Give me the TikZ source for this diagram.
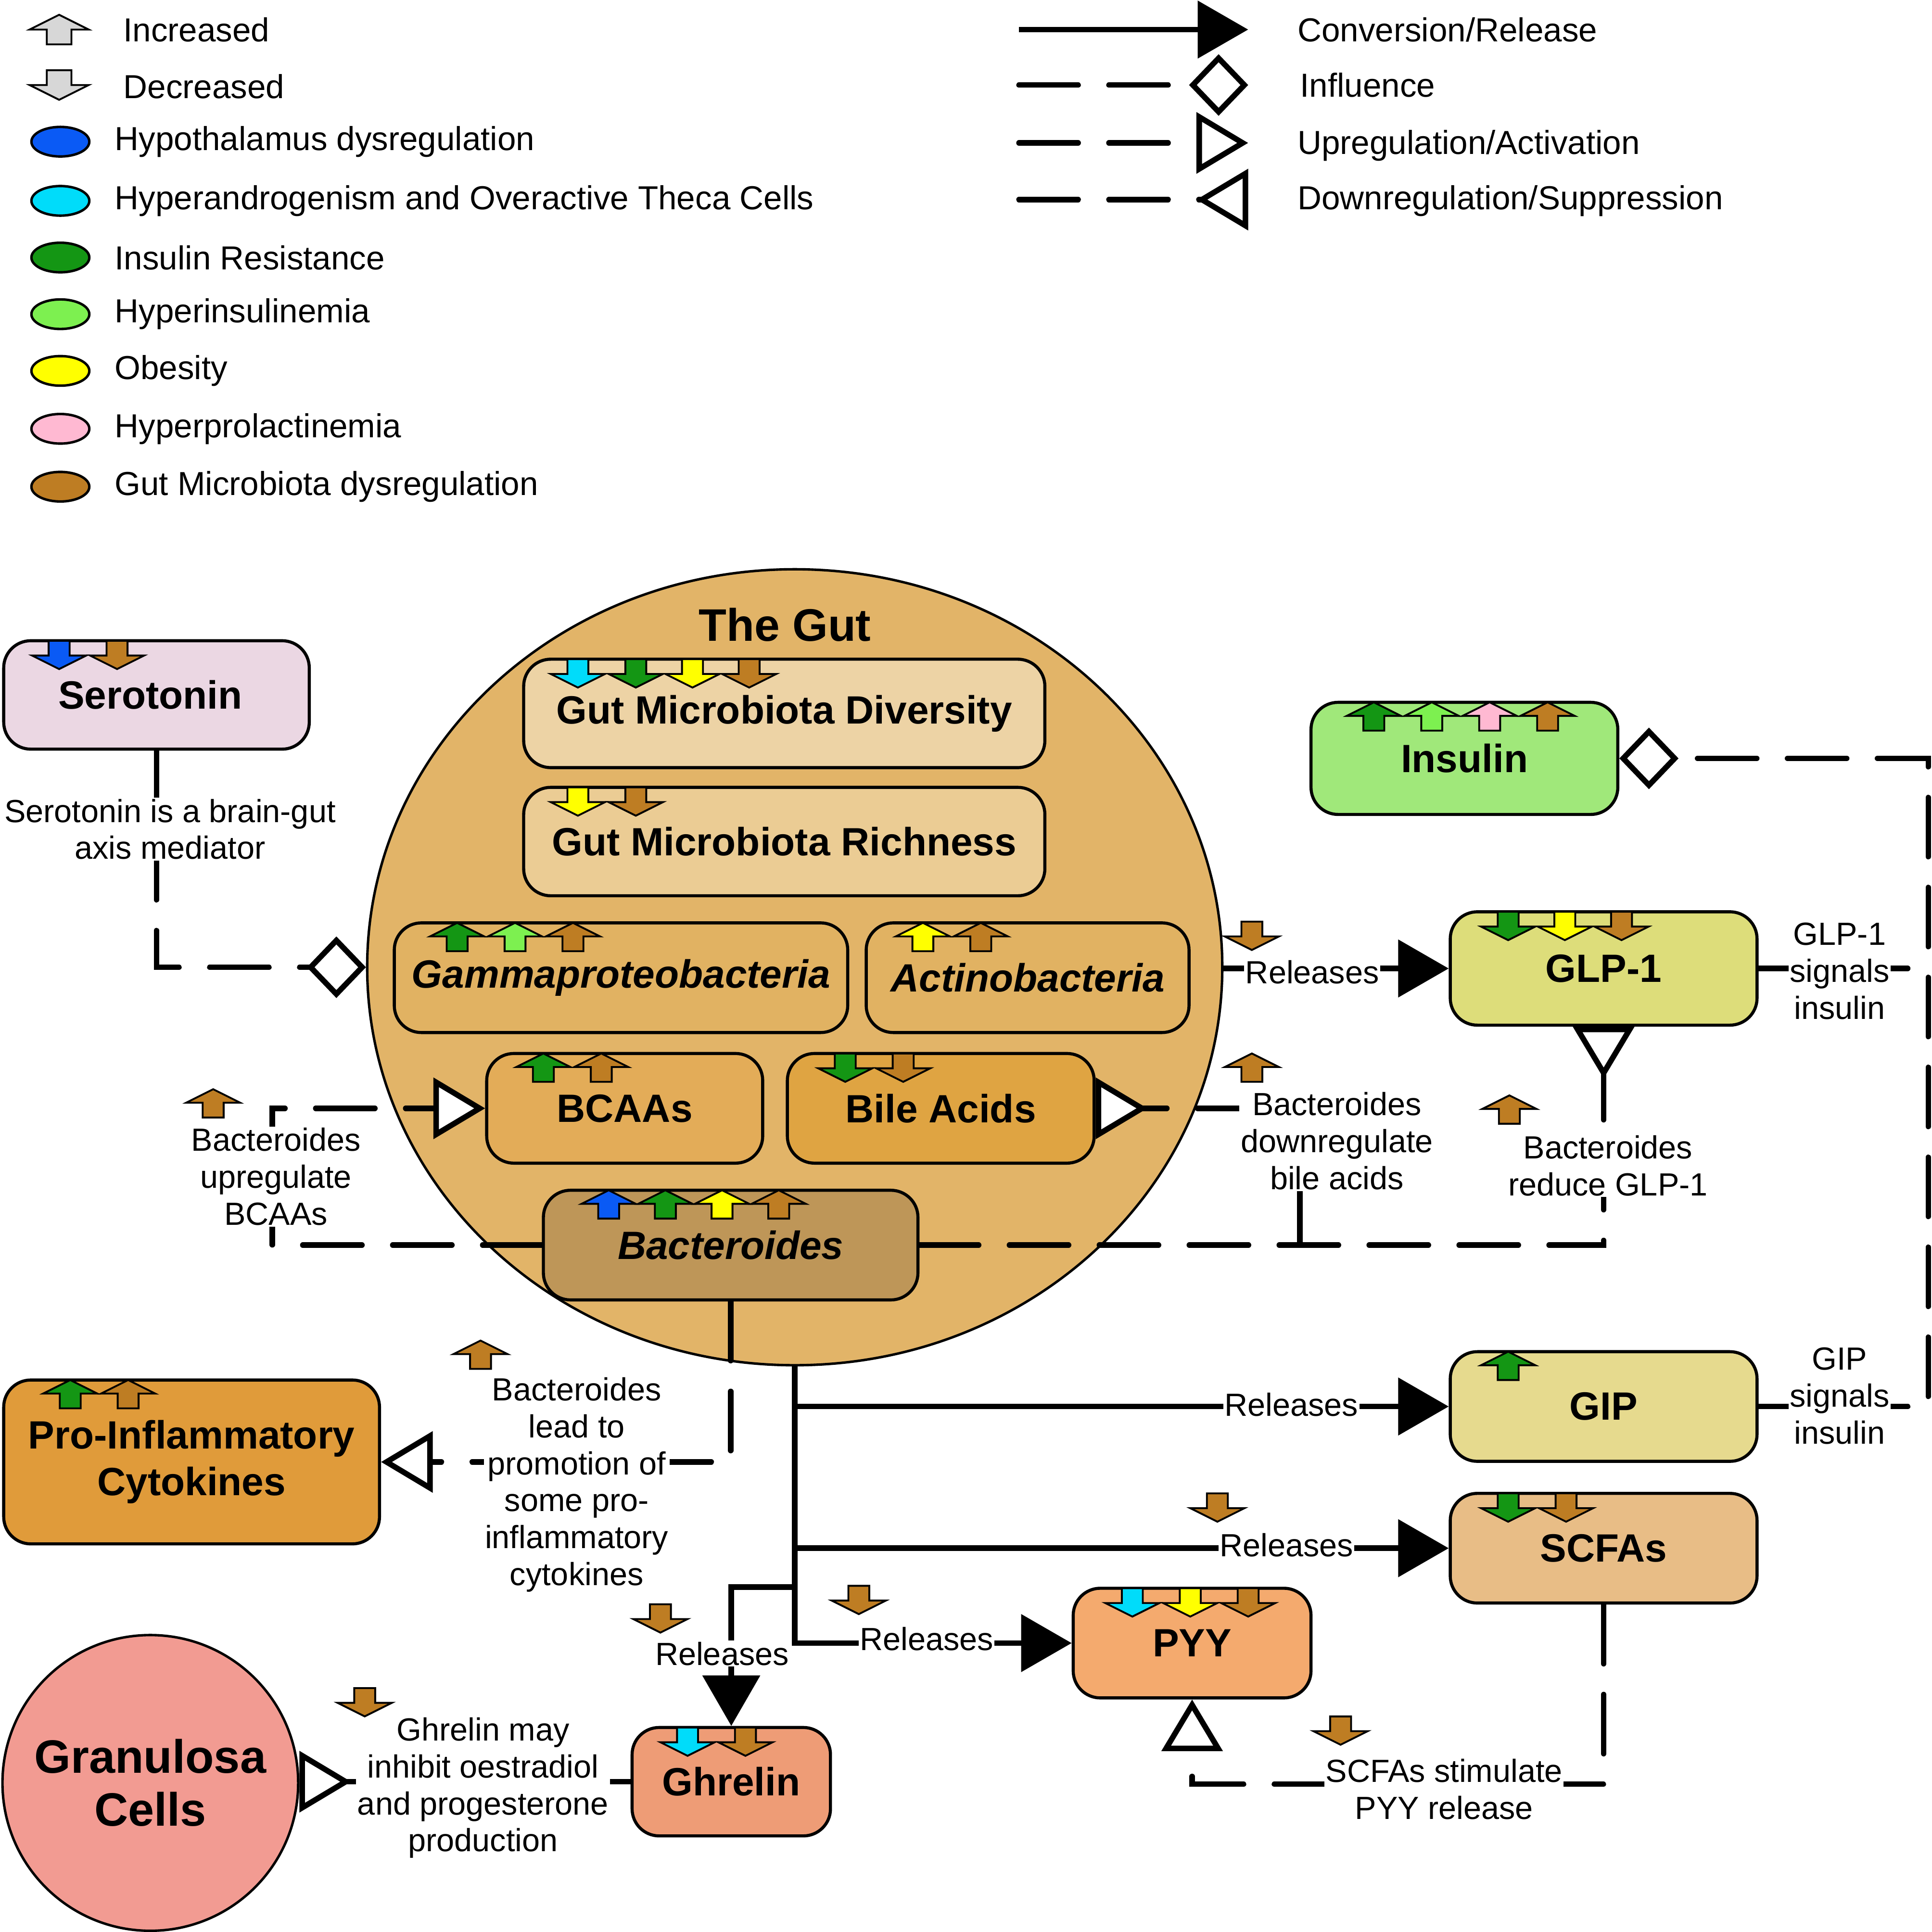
\documentclass[tikz,border=0pt]{standalone}
\usepackage{fontspec}
\setmainfont{Liberation Sans}
\usetikzlibrary{arrows.meta,shapes.geometric,calc}
\definecolor{cSer}{RGB}{235,215,227}
\definecolor{cGut}{RGB}{226,180,104}
\definecolor{cGMD}{RGB}{237,211,165}
\definecolor{cGMR}{RGB}{235,204,148}
\definecolor{cGam}{RGB}{225,178,98}
\definecolor{cBca}{RGB}{227,172,88}
\definecolor{cBil}{RGB}{223,164,66}
\definecolor{cBac}{RGB}{190,150,88}
\definecolor{cIns}{RGB}{160,232,122}
\definecolor{cGlp}{RGB}{221,221,122}
\definecolor{cGip}{RGB}{230,218,142}
\definecolor{cScf}{RGB}{232,189,134}
\definecolor{cPyy}{RGB}{244,170,110}
\definecolor{cGhr}{RGB}{238,156,118}
\definecolor{cPro}{RGB}{224,155,58}
\definecolor{cGra}{RGB}{242,155,146}
\definecolor{aBlue}{RGB}{10,90,245}
\definecolor{aCyan}{RGB}{0,220,250}
\definecolor{aGreen}{RGB}{20,150,20}
\definecolor{aLGreen}{RGB}{125,240,80}
\definecolor{aYellow}{RGB}{255,255,0}
\definecolor{aPink}{RGB}{255,185,210}
\definecolor{aBrown}{RGB}{190,125,35}
\definecolor{aGray}{RGB}{215,215,215}
\newcommand\UpInd[3]{\draw[ind,fill=#3] (#1,#2) -- ++(22,11) -- ++(-13.5,0) -- ++(0,12) -- ++(-17,0) -- ++(0,-12) -- ++(-13.5,0) -- cycle;}
\newcommand\DnInd[3]{\draw[ind,fill=#3] (#1-8.5,#2) -- ++(17,0) -- ++(0,12) -- ++(13.5,0) -- ++(-22,11) -- ++(-22,-11) -- ++(13.5,0) -- cycle;}
\begin{document}
\begin{tikzpicture}[x=1pt,y=-1pt,
  box/.style={draw, line width=2.5pt, rounded corners=22pt, inner sep=0pt, align=center, font=\fontsize{32}{36}\selectfont\bfseries},
  ibox/.style={box, font=\fontsize{32}{36}\selectfont\bfseries\itshape},
  note/.style={fill=white, inner sep=1pt, align=center, font=\fontsize{26}{30}\selectfont},
  legtxt/.style={anchor=west, inner sep=0pt, font=\fontsize{27}{32}\selectfont},
  legell/.style={draw, line width=2pt, ellipse, minimum width=47pt, minimum height=24pt, inner sep=0pt},
  rel/.style={line width=4.5pt, -{Triangle[length=41pt,width=46pt]}},
  infl/.style={line width=4.5pt, dash pattern=on 48pt off 25pt, line cap=round},
  ind/.style={draw=black, line width=1.5pt, line join=miter},
  upt/.style={-{Triangle[fill=white,length=42pt,width=49pt]}},
  dnt/.style={-{Triangle[reversed,fill=white,length=42pt,width=49pt]}},
  dia/.style={-{Diamond[fill=white,length=48pt,width=50pt]}}]
\useasboundingbox (0,0) rectangle (1568,1568);

% ---------- legend (left) ----------
\draw[ind, fill=aGray] (48,12) -- ++(24,12) -- ++(-14,0) -- ++(0,12) -- ++(-20,0) -- ++(0,-12) -- ++(-14,0) -- cycle;
\draw[ind, fill=aGray] (38,57) -- ++(20,0) -- ++(0,12) -- ++(14,0) -- ++(-24,12) -- ++(-24,-12) -- ++(14,0) -- cycle;
\node[legtxt] (tInc) at (100,24) {Increased};
\node[legtxt] (tDec) at (100,70) {Decreased};
\node[legell, fill=aBlue] (e1) at (49,115) {};
\node[legell, fill=aCyan] (e2) at (49,163) {};
\node[legell, fill=aGreen] (e3) at (49,209) {};
\node[legell, fill=aLGreen] (e4) at (49,255) {};
\node[legell, fill=aYellow] (e5) at (49,301) {};
\node[legell, fill=aPink] (e6) at (49,348) {};
\node[legell, fill=aBrown] (e7) at (49,395) {};
\node[legtxt] (t1) at (93,115) {Hypothalamus dysregulation};
\node[legtxt] (t2) at (93,163) {Hyperandrogenism and Overactive Theca Cells};
\node[legtxt] (t3) at (93,209) {Insulin Resistance};
\node[legtxt] (t4) at (93,255) {Hyperinsulinemia};
\node[legtxt] (t5) at (93,301) {Obesity};
\node[legtxt] (t6) at (93,348) {Hyperprolactinemia};
\node[legtxt] (t7) at (93,395) {Gut Microbiota dysregulation};

% ---------- legend (right) ----------
\coordinate (l1a) at (827,24); \coordinate (l1b) at (1013,24);
\coordinate (l2a) at (827,69); \coordinate (l2b) at (1013,69);
\coordinate (l3a) at (827,116); \coordinate (l3b) at (1013,116);
\coordinate (l4a) at (827,162); \coordinate (l4b) at (1013,162);
\draw[rel] (l1a) -- (l1b);
\draw[infl,dia] (l2a) -- (l2b);
\draw[infl,upt] (l3a) -- (l3b);
\draw[infl,dnt] (l4a) -- (l4b);
\node[legtxt] (r1) at (1053,24) {Conversion/Release};
\node[legtxt] (r2) at (1055,69) {Influence};
\node[legtxt] (r3) at (1053,118) {Upregulation/Activation};
\node[legtxt] (r4) at (1053,163) {Downregulation/Suppression};

% ---------- the gut ----------
\node[ellipse, draw, line width=2pt, fill=cGut, minimum width=694pt, minimum height=646pt, inner sep=0pt] (gut) at (645,785) {};
\node[inner sep=0pt, font=\fontsize{37}{40}\selectfont\bfseries] (gutlbl) at (637,507) {The Gut};
\node[box, fill=cGMD, minimum width=423pt, minimum height=88pt] (gmd) at (636.5,579) {Gut Microbiota Diversity};
\node[box, fill=cGMR, minimum width=423pt, minimum height=88pt] (gmr) at (636.5,683) {Gut Microbiota Richness};
\node[ibox, fill=cGam, minimum width=368pt, minimum height=89pt] (gam) at (504,793.5) {Gammaproteobacteria};
\node[ibox, fill=cGam, minimum width=262pt, minimum height=89pt] (act) at (834,793.5) {Actinobacteria};
\node[box, fill=cBca, minimum width=224pt, minimum height=89pt] (bca) at (507,899.5) {BCAAs};
\node[box, fill=cBil, minimum width=249pt, minimum height=89pt] (bil) at (763.5,899.5) {Bile Acids};
\node[ibox, fill=cBac, minimum width=304pt, minimum height=89pt] (bac) at (593,1010.5) {Bacteroides};

% ---------- other nodes ----------
\node[box, fill=cSer, minimum width=248pt, minimum height=88pt] (ser) at (127,564) {Serotonin\hspace*{10pt}};
\node[box, fill=cIns, minimum width=249pt, minimum height=91pt] (ins) at (1188.5,615.5) {Insulin};
\node[box, fill=cGlp, minimum width=249pt, minimum height=92pt] (glp) at (1301.5,786) {GLP-1};
\node[box, fill=cGip, minimum width=249pt, minimum height=89pt] (gip) at (1301.5,1141.5) {GIP};
\node[box, fill=cScf, minimum width=249pt, minimum height=89pt] (scf) at (1301.5,1256.5) {SCFAs};
\node[box, fill=cPyy, minimum width=193pt, minimum height=89pt] (pyy) at (967.5,1333.5) {PYY};
\node[box, fill=cGhr, minimum width=161pt, minimum height=88pt] (ghr) at (593.5,1446) {Ghrelin};
\node[box, fill=cPro, minimum width=305pt, minimum height=133pt, font=\fontsize{32}{38}\selectfont\bfseries] (pro) at (155.5,1186.5) {Pro-Inflammatory\\Cytokines};
\node[circle, draw, line width=2pt, fill=cGra, minimum size=240pt, inner sep=0pt, align=center, font=\fontsize{38}{43}\selectfont\bfseries] (gra) at (122,1447) {Granulosa\\Cells};

% ---------- connectors ----------
\coordinate (rail) at (1565,615.5);
\coordinate (bj) at (1055,1010.5);
\coordinate (bl) at (221,1010.5);
\coordinate (gb) at (645,1288);
\coordinate (sb) at (1301.5,1448);

\draw[infl,dia] (ser.south) |- (gut.west);
\draw[rel] (glp.west -| gut.east) -- (glp.west);
\draw[infl,dia] (gip.east) -| (rail) -- (ins.east);
\draw[infl] (glp.east) -- (glp.east -| rail);
\draw[infl,dnt] (bac.east) -| (glp.south);
\draw[infl,dnt] (bj) |- (bil.east);
\draw[infl,upt] (bac.west) -- (bl) |- (bca.west);
\draw[infl,upt] (bac.south) |- (pro.east);
\draw[rel] (gut.south) |- (pyy.west);
\draw[rel] (gut.south |- gip.west) -- (gip.west);
\draw[rel] (gut.south |- scf.west) -- (scf.west);
\draw[rel] (gb) -| (ghr.north);
\draw[infl,upt] (scf.south) -- (sb) -| (pyy.south);
\draw[infl,dnt] (ghr.west) -- (ghr.west -| gra.east);

% ---------- connector texts ----------
\node[note] (n1) at (138,673) {Serotonin is a brain-gut\\axis mediator};
\node[note] (n2) at (1065,789) {Releases};
\node[note] (n3) at (1493,788) {GLP-1\\signals\\insulin};
\node[note] (n4) at (1493,1133) {GIP\\signals\\insulin};
\node[note] (n5) at (1085,926) {Bacteroides\\downregulate\\bile acids};
\node[note] (n6) at (1305,946) {Bacteroides\\reduce GLP-1};
\node[note] (n7) at (224,955) {Bacteroides\\upregulate\\BCAAs};
\node[note] (n8) at (468,1205) {Bacteroides\\lead to\\promotion of\\some pro-\\inflammatory\\cytokines};
\node[note] (n9) at (1048,1140) {Releases};
\node[note] (n10) at (1044,1254) {Releases};
\node[note] (n11) at (752,1330) {Releases};
\node[note] (n12) at (586,1342) {Releases};
\node[note] (n13) at (1172,1452) {SCFAs stimulate\\PYY release};
\node[note] (n14) at (392,1451) {Ghrelin may\\inhibit oestradiol\\and progesterone\\production};

% ---------- indicator arrows in boxes ----------
\DnInd{48}{520}{aBlue} \DnInd{95}{520}{aBrown}
\DnInd{469}{535}{aCyan} \DnInd{516}{535}{aGreen} \DnInd{562}{535}{aYellow} \DnInd{608}{535}{aBrown}
\DnInd{469}{639}{aYellow} \DnInd{516}{639}{aBrown}
\UpInd{371}{749}{aGreen} \UpInd{418}{749}{aLGreen} \UpInd{465}{749}{aBrown}
\UpInd{749}{749}{aYellow} \UpInd{796}{749}{aBrown}
\UpInd{441}{855}{aGreen} \UpInd{488}{855}{aBrown}
\DnInd{686}{855}{aGreen} \DnInd{733}{855}{aBrown}
\UpInd{494}{966}{aBlue} \UpInd{540}{966}{aGreen} \UpInd{586}{966}{aYellow} \UpInd{632}{966}{aBrown}
\UpInd{1115}{570}{aGreen} \UpInd{1162}{570}{aLGreen} \UpInd{1209}{570}{aPink} \UpInd{1256}{570}{aBrown}
\DnInd{1224}{740}{aGreen} \DnInd{1270}{740}{aYellow} \DnInd{1316}{740}{aBrown}
\UpInd{1224}{1097}{aGreen}
\DnInd{1224}{1212}{aGreen} \DnInd{1271}{1212}{aBrown}
\DnInd{919}{1289}{aCyan} \DnInd{966}{1289}{aYellow} \DnInd{1013}{1289}{aBrown}
\DnInd{558}{1402}{aCyan} \DnInd{605}{1402}{aBrown}
\UpInd{57}{1120}{aGreen} \UpInd{104}{1120}{aBrown}

% ---------- free-standing indicator arrows ----------
\UpInd{173}{884}{aBrown}
\DnInd{1016}{748}{aBrown}
\UpInd{1016}{855}{aBrown}
\UpInd{1225}{889}{aBrown}
\UpInd{390}{1088}{aBrown}
\DnInd{988}{1212}{aBrown}
\DnInd{697}{1287}{aBrown}
\DnInd{536}{1302}{aBrown}
\DnInd{296}{1370}{aBrown}
\DnInd{1088}{1393}{aBrown}
\end{tikzpicture}
\end{document}
